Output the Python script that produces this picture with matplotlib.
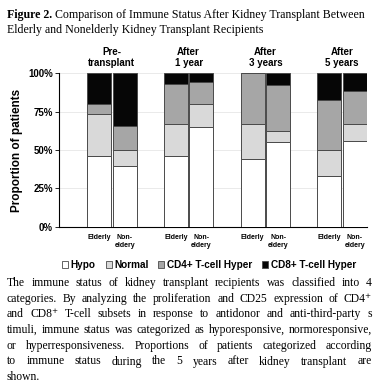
import numpy as np
import matplotlib
matplotlib.use("Agg")
import matplotlib.pyplot as plt
from matplotlib.patches import Patch

# data (fractions of patients, stacked bottom -> top)
periods = ["Pre-\ntransplant", "After\n1 year", "After\n3 years", "After\n5 years"]
groups = ["Elderly", "Non-\neldery"]
categories = ["Hypo", "Normal", "CD4+ T-cell Hyper", "CD8+ T-cell Hyper"]
# order: elderly pre, non-elderly pre, elderly 1y, non-elderly 1y, ...
hypo   = [0.463, 0.398, 0.463, 0.652, 0.443, 0.550, 0.330, 0.557]
normal = [0.270, 0.102, 0.204, 0.148, 0.224, 0.074, 0.170, 0.110]
cd4    = [0.065, 0.157, 0.263, 0.143, 0.333, 0.300, 0.330, 0.220]
cd8    = [0.202, 0.343, 0.070, 0.057, 0.000, 0.076, 0.170, 0.113]

colors = ["#ffffff", "#d9d9d9", "#a6a6a6", "#060606"]
sans = ["Liberation Sans", "DejaVu Sans"]
serif = ["Liberation Serif", "DejaVu Serif"]

fig = plt.figure(figsize=(3.8, 3.88), dpi=100)
ax = fig.add_axes([0.156, 0.4157, 0.810, 0.395])

centers = np.arange(4) * 3 + 1.55
xpos = np.ravel(np.column_stack([centers, centers + 1]))
series = [hypo, normal, cd4, cd8]
bottom = np.zeros(len(xpos))
for vals, col in zip(series, colors):
    ax.bar(xpos, vals, width=0.94, bottom=bottom, color=col,
           edgecolor="#4a4a4a", linewidth=0.7, zorder=3)
    bottom += np.array(vals)

ax.set_xlim(0, 12.02)
ax.set_ylim(0, 1)
ax.set_yticks([0, 0.25, 0.5, 0.75, 1.0])
ax.set_yticklabels(["0%", "25%", "50%", "75%", "100%"],
                   fontfamily=sans, fontweight="bold", fontsize=7)
ax.yaxis.grid(True, color="#e6e6e6", linewidth=0.6, zorder=0)
ax.set_xticks(xpos)
ax.set_xticklabels(groups * 4, fontfamily=sans, fontweight="bold",
                   fontsize=5, linespacing=1.3, va="top")
ax.tick_params(axis="x", length=0, pad=5)
ax.tick_params(axis="y", length=3, width=0.6, pad=1.5)
for s in ["top", "right"]:
    ax.spines[s].set_visible(False)
ax.spines["left"].set_linewidth(0.8)
ax.spines["bottom"].set_linewidth(0.8)
ax.set_ylabel("Proportion of patients", fontfamily=sans, fontweight="bold",
              fontsize=8.5, labelpad=4)

for c, p in zip(centers, periods):
    ax.text(c + 0.5, 1.035, p, transform=ax.get_xaxis_transform(),
            ha="center", va="bottom", fontfamily=sans, fontweight="bold",
            fontsize=7, linespacing=1.15)

handles = [Patch(facecolor=c, edgecolor="#4a4a4a", linewidth=0.6) for c in colors]
fig.legend(handles, categories, loc="center", bbox_to_anchor=(0.55, 0.317),
           ncol=4, frameon=False, handlelength=0.6, handleheight=0.6,
           handletextpad=0.25, columnspacing=1.0,
           prop={"family": sans, "weight": "bold", "size": 7.2})

# title
renderer = fig.canvas.get_renderer()
W, H = fig.bbox.width, fig.bbox.height
t1 = fig.text(7 / W, 0.976, "Figure 2.", fontfamily=serif, fontweight="bold",
              fontsize=8.6, va="top")
w1 = t1.get_window_extent(renderer).width
fig.text((7 + w1 + 2.5) / W, 0.976,
         "Comparison of Immune Status After Kidney Transplant Between",
         fontfamily=serif, fontsize=8.6, va="top")
fig.text(7 / W, 0.937, "Elderly and Nonelderly Kidney Transplant Recipients",
         fontfamily=serif, fontsize=8.6, va="top")

# caption, justified line by line
caption = [
    "The immune status of kidney transplant recipients was classified into 4",
    "categories. By analyzing the proliferation and CD25 expression of CD4\u207a",
    "and CD8\u207a T-cell subsets in response to antidonor and anti-third-party s",
    "timuli, immune status was categorized as hyporesponsive, normoresponsive,",
    "or hyperresponsiveness. Proportions of patients categorized according",
    "to immune status during the 5 years after kidney transplant are",
    "shown.",
]
x0, x1 = 7, 372
for i, line in enumerate(caption):
    y = 1 - (283 + i * 15.7) / 388
    words = line.split(" ")
    objs = [fig.text(0, y, w, fontfamily=serif, fontsize=8.4, va="center") for w in words]
    widths = [o.get_window_extent(renderer).width for o in objs]
    if i < len(caption) - 1 and len(words) > 1:
        gap = (x1 - x0 - sum(widths)) / (len(words) - 1)
    else:
        gap = 2.3
    x = x0
    for o, w in zip(objs, widths):
        o.set_x(x / W)
        x += w + gap

fig.savefig("out.png", dpi=100)
